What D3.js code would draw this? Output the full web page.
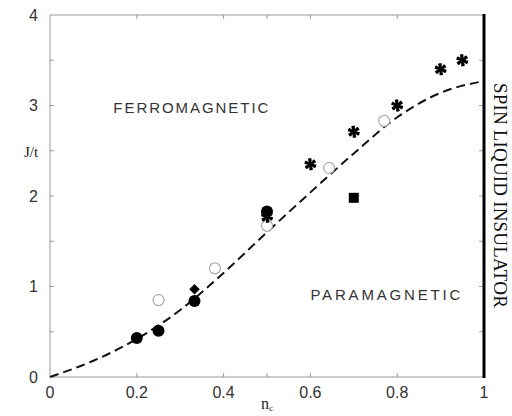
<!DOCTYPE html>
<html>
<head>
<meta charset="utf-8">
<style>
  body { margin: 0; background: #fff; }
  text { font-family: "Liberation Sans", Arial, sans-serif; }
  .serif { font-family: "Liberation Serif", "Times New Roman", serif; }
</style>
<title>J/t vs nc</title>
</head>
<body>
<script src="https://cdn.jsdelivr.net/npm/d3@7"></script>
<script>
// data
var curveX = [0, 0.1, 0.2, 0.3, 0.4, 0.5, 0.6, 0.7, 0.8, 0.9, 1.0];
var curveY = [0, 0.18, 0.42, 0.74, 1.15, 1.6, 2.04, 2.47, 2.87, 3.14, 3.27];

var fillCircX = [0.2, 0.25, 0.333, 0.5];
var fillCircY = [0.43, 0.51, 0.84, 1.83];
var openCircX = [0.25, 0.38, 0.5, 0.643, 0.77];
var openCircY = [0.85, 1.2, 1.67, 2.31, 2.83];
var starX = [0.5, 0.6, 0.7, 0.8, 0.9, 0.95];
var starY = [1.77, 2.35, 2.71, 3.0, 3.4, 3.5];
var diamondX = [0.333], diamondY = [0.97];
var squareX = [0.7], squareY = [1.98];

var xTickLabels = [0, 0.2, 0.4, 0.6, 0.8, 1];
var xTicks = [0.2, 0.4, 0.5, 0.6, 0.8];
var yTickLabels = [0, 1, 2, 3, 4];
var yTicks = [0.5, 1, 1.5, 2, 2.5, 3, 3.5];

var margin = {top: 15, right: 28, bottom: 39, left: 50};
var width = 512 - margin.left - margin.right,
    height = 416 - margin.top - margin.bottom;

var x = d3.scaleLinear().domain([0, 1]).range([0, width]);
var y = d3.scaleLinear().domain([0, 4]).range([height, 0]);

const svg = d3.select("body").append("svg")
  .attr("width", 512).attr("height", 416);
const g = svg.append("g").attr("transform", "translate(" + margin.left + "," + margin.top + ")");

var axisCol = "#999";

// frame: left, bottom, top gray; right thick black
g.append("line").attr("x1", 0).attr("x2", 0).attr("y1", 0).attr("y2", height).attr("stroke", axisCol);
g.append("line").attr("x1", 0).attr("x2", width).attr("y1", height).attr("y2", height).attr("stroke", axisCol);
g.append("line").attr("x1", 0).attr("x2", width).attr("y1", 0).attr("y2", 0).attr("stroke", axisCol);

// inward ticks
yTicks.forEach(function(t) {
  g.append("line").attr("x1", 0).attr("x2", 4).attr("y1", y(t)).attr("y2", y(t)).attr("stroke", axisCol);
  g.append("line").attr("x1", width - 5).attr("x2", width).attr("y1", y(t)).attr("y2", y(t)).attr("stroke", axisCol);
});
xTicks.forEach(function(t) {
  g.append("line").attr("x1", x(t)).attr("x2", x(t)).attr("y1", height).attr("y2", height - 4).attr("stroke", axisCol);
  g.append("line").attr("x1", x(t)).attr("x2", x(t)).attr("y1", 0).attr("y2", 4).attr("stroke", axisCol);
});

g.append("line").attr("x1", width).attr("x2", width).attr("y1", -1).attr("y2", height + 1)
  .attr("stroke", "#000").attr("stroke-width", 3);

// tick labels
g.selectAll(".ylab").data(yTickLabels).join("text")
  .attr("x", -12).attr("y", function(d) { return y(d); }).attr("dy", "0.35em")
  .attr("text-anchor", "end").attr("font-size", 16).attr("fill", "#333")
  .text(function(d) { return d; });
g.selectAll(".xlab").data(xTickLabels).join("text")
  .attr("x", function(d) { return x(d); }).attr("y", height + 21)
  .attr("text-anchor", "middle").attr("font-size", 16).attr("fill", "#333")
  .text(function(d) { return d; });

// axis titles
g.append("text").attr("class", "serif").attr("x", -19).attr("y", y(2.43))
  .attr("text-anchor", "middle").attr("font-size", 15).attr("fill", "#222").text("J/t");
var nc = g.append("text").attr("class", "serif").attr("x", x(0.5)).attr("y", height + 32)
  .attr("text-anchor", "middle").attr("font-size", 16).attr("fill", "#222");
nc.append("tspan").text("n");
nc.append("tspan").attr("font-size", 9).attr("dy", 2).text("c");

// region labels
g.append("text").attr("x", x(0.146)).attr("y", y(2.92)).attr("font-size", 15)
  .attr("fill", "#333").attr("textLength", 155).attr("lengthAdjust", "spacing").text("FERROMAGNETIC");
g.append("text").attr("x", x(0.6)).attr("y", y(0.85)).attr("font-size", 15)
  .attr("fill", "#333").attr("textLength", 150).attr("lengthAdjust", "spacing").text("PARAMAGNETIC");
g.append("text").attr("class", "serif")
  .attr("transform", "translate(" + (width + 10) + "," + y(3.25) + ") rotate(90)")
  .attr("font-size", 19).attr("fill", "#111").attr("textLength", 225).attr("lengthAdjust", "spacing")
  .text("SPIN LIQUID INSULATOR");

// dashed curve
var line = d3.line().x(function(d) { return x(d[0]); }).y(function(d) { return y(d[1]); })
  .curve(d3.curveMonotoneX);
g.append("path").datum(d3.zip(curveX, curveY)).attr("d", line)
  .attr("fill", "none").attr("stroke", "#111").attr("stroke-width", 2).attr("stroke-dasharray", "9,5");

// markers
g.selectAll(".oc").data(d3.zip(openCircX, openCircY)).join("circle")
  .attr("cx", function(d) { return x(d[0]); }).attr("cy", function(d) { return y(d[1]); })
  .attr("r", 5.5).attr("fill", "#fff").attr("stroke", "#aaa").attr("stroke-width", 1.2);

var starSym = d3.symbol().type(d3.symbolAsterisk).size(100);
g.selectAll(".st").data(d3.zip(starX, starY)).join("path")
  .attr("transform", function(d) { return "translate(" + x(d[0]) + "," + y(d[1]) + ")"; })
  .attr("d", starSym).attr("fill", "none").attr("stroke", "#000").attr("stroke-width", 2.2);
g.selectAll(".st2").data(d3.zip(starX, starY)).join("path")
  .attr("transform", function(d) { return "translate(" + x(d[0]) + "," + y(d[1]) + ") rotate(45)"; })
  .attr("d", starSym).attr("fill", "none").attr("stroke", "#000").attr("stroke-width", 2.2);

g.selectAll(".fc").data(d3.zip(fillCircX, fillCircY)).join("circle")
  .attr("cx", function(d) { return x(d[0]); }).attr("cy", function(d) { return y(d[1]); })
  .attr("r", 6).attr("fill", "#000");

g.selectAll(".dm").data(d3.zip(diamondX, diamondY)).join("path")
  .attr("transform", function(d) { return "translate(" + x(d[0]) + "," + y(d[1]) + ")"; })
  .attr("d", d3.symbol().type(d3.symbolDiamond2).size(70)).attr("fill", "#000");

g.selectAll(".sq").data(d3.zip(squareX, squareY)).join("rect")
  .attr("x", function(d) { return x(d[0]) - 5; }).attr("y", function(d) { return y(d[1]) - 5; })
  .attr("width", 10).attr("height", 10).attr("fill", "#000");
</script>
</body>
</html>
